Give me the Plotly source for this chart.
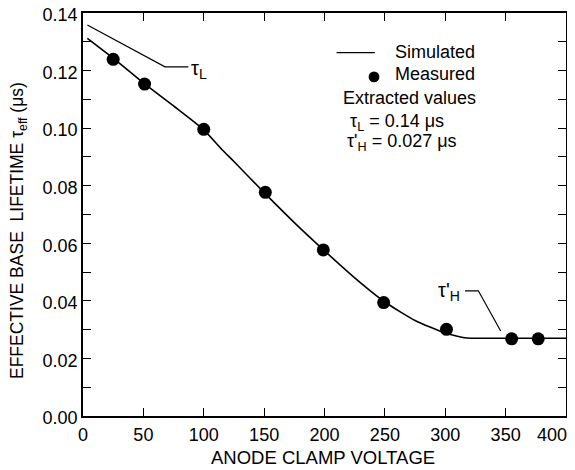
import plotly.graph_objects as go

# Measured data
meas_v = [25, 51, 100, 151, 199, 249, 301, 355, 377]
meas_tau = [0.1239, 0.1153, 0.0996, 0.0777, 0.0577, 0.0394, 0.0301, 0.0268, 0.0268]

# Simulated curve
sim_v = [3.6, 25, 50, 75, 100, 115, 125, 150, 175, 200, 225, 250, 275, 300, 310, 318, 330, 350, 375, 400]
sim_tau = [0.1312, 0.1243, 0.1157, 0.1077, 0.0994, 0.0926, 0.0884, 0.0776, 0.0672, 0.0574, 0.0480, 0.0396, 0.0332, 0.0288, 0.0277, 0.0271, 0.0270, 0.0270, 0.0270, 0.0270]

x_ticks = [0, 50, 100, 150, 200, 250, 300, 350, 400]
x_tick_labels = ["0", "50", "100", "150", "200", "250", "300", "350", "400"]
y_ticks = [0.00, 0.02, 0.04, 0.06, 0.08, 0.10, 0.12, 0.14]

FONT = "Liberation Sans, Arial, Helvetica, sans-serif"
BLACK = "black"

# page has an 8px body margin: figure drawn at (8, 8) in the window
OFF = 8
W, H = 575 - OFF, 470 - OFF
# plot area in window pixels
PX0, PX1, PY0, PY1 = 83, 566, 13, 416
L, R, T, B = PX0 - OFF, W - (PX1 - OFF), PY0 - OFF, H - (PY1 - OFF)


def px_to_paper_x(px):
    return (px - PX0) / (PX1 - PX0)


def px_to_paper_y(py):
    return (PY1 - py) / (PY1 - PY0)


fig = go.Figure()
fig.add_trace(go.Scatter(x=sim_v, y=sim_tau, mode="lines",
                         line=dict(color=BLACK, width=1.6, shape="spline", smoothing=0.6),
                         showlegend=False, hoverinfo="skip"))
fig.add_trace(go.Scatter(x=meas_v, y=meas_tau, mode="markers",
                         marker=dict(color=BLACK, size=13),
                         showlegend=False))

shapes = [
    # tau_L leader
    dict(type="path", path="M 3.6,0.1358 L 67.9,0.1213 L 87.2,0.1213", xref="x", yref="y",
         line=dict(color=BLACK, width=1.2)),
    # tau'_H leader
    dict(type="path", path="M 316.4,0.0435 L 327.4,0.0435 L 345.9,0.0295", xref="x", yref="y",
         line=dict(color=BLACK, width=1.2)),
    # legend line sample
    dict(type="line", x0=210, x1=241.7, y0=0.1262, y1=0.1262, xref="x", yref="y",
         line=dict(color=BLACK, width=1.2)),
    # legend marker
    dict(type="circle", xref="x", yref="y", x0=241 - 5.4/1.2075, x1=241 + 5.4/1.2075,
         y0=0.1178 - 5.4/2879, y1=0.1178 + 5.4/2879, fillcolor=BLACK, line=dict(color=BLACK, width=0)),
]

annotations = [
    dict(x=88, y=0.1205, text="τ<sub>L</sub>", xanchor="left", yanchor="middle",
         font=dict(size=20, family=FONT, color=BLACK)),
    dict(x=314, y=0.0432, text="τ'<sub>H</sub>", xanchor="right", yanchor="middle",
         font=dict(size=20, family=FONT, color=BLACK)),
    dict(x=256.7, y=0.1266, text="Simulated", xanchor="left", yanchor="middle",
         font=dict(size=18, family=FONT, color=BLACK)),
    dict(x=256.7, y=0.1188, text="Measured", xanchor="left", yanchor="middle",
         font=dict(size=18, family=FONT, color=BLACK)),
    dict(x=270.8, y=0.1103, text="Extracted values", xanchor="center", yanchor="middle",
         font=dict(size=18, family=FONT, color=BLACK)),
    dict(x=219.5, y=0.1020, text="τ<sub>L</sub> = 0.14 μs", xanchor="left", yanchor="middle",
         font=dict(size=18, family=FONT, color=BLACK)),
    dict(x=217, y=0.0951, text="τ'<sub>H</sub> = 0.027 μs", xanchor="left", yanchor="middle",
         font=dict(size=18, family=FONT, color=BLACK)),
]
for a in annotations:
    a.update(xref="x", yref="y", showarrow=False)

# last x tick label sits left of its tick (as in the reference) so it stays on the page
annotations.append(dict(xref="x", yref="paper", x=x_ticks[-1], y=px_to_paper_y(435),
                        text=x_tick_labels[-1], showarrow=False, xanchor="right", yanchor="middle",
                        xshift=3, font=dict(size=18, family=FONT, color=BLACK)))

# axis titles as paper annotations for exact placement
annotations.append(dict(xref="paper", yref="paper", x=px_to_paper_x((PX0 + PX1) / 2 - 2), y=px_to_paper_y(457),
                        text="ANODE CLAMP VOLTAGE", showarrow=False, xanchor="center", yanchor="middle",
                        font=dict(size=18.5, family=FONT, color=BLACK)))
annotations.append(dict(xref="paper", yref="paper", x=px_to_paper_x(18), y=px_to_paper_y(231),
                        text="EFFECTIVE BASE  LIFETIME τ<sub>eff</sub> (μs)", textangle=-90,
                        showarrow=False, xanchor="center", yanchor="middle",
                        font=dict(size=17.5, family=FONT, color=BLACK)))

fig.update_layout(
    width=W, height=H,
    margin=dict(l=L, r=R, t=T, b=B, autoexpand=False),
    paper_bgcolor="white", plot_bgcolor="white",
    font=dict(family=FONT, size=18, color=BLACK),
    shapes=shapes, annotations=annotations,
    showlegend=False,
)
fig.update_xaxes(
    range=[0, 400], tickvals=x_ticks, ticktext=x_tick_labels[:-1] + [""],
    ticks="inside", ticklen=8, tickwidth=1.2, tickcolor=BLACK,
    showline=True, linecolor=BLACK, linewidth=1.6, mirror="ticks",
    showgrid=False, zeroline=False, automargin=False, ticklabeloverflow="allow",
    ticklabelstandoff=2,
    tickfont=dict(size=18, family=FONT, color=BLACK),
)
fig.update_yaxes(
    range=[0, 0.14], tickvals=y_ticks, ticktext=[f"{v:.2f}" for v in y_ticks],
    ticks="inside", ticklen=8, tickwidth=1.2, tickcolor=BLACK,
    minor=dict(dtick=0.01, ticks="inside", ticklen=8, tickwidth=1.2, tickcolor=BLACK, showgrid=False),
    showline=True, linecolor=BLACK, linewidth=1.6, mirror="ticks",
    showgrid=False, zeroline=False, automargin=False, ticklabeloverflow="allow",
    ticklabelshift=2,
    tickfont=dict(size=18, family=FONT, color=BLACK),
)

fig.write_html("out.html")
